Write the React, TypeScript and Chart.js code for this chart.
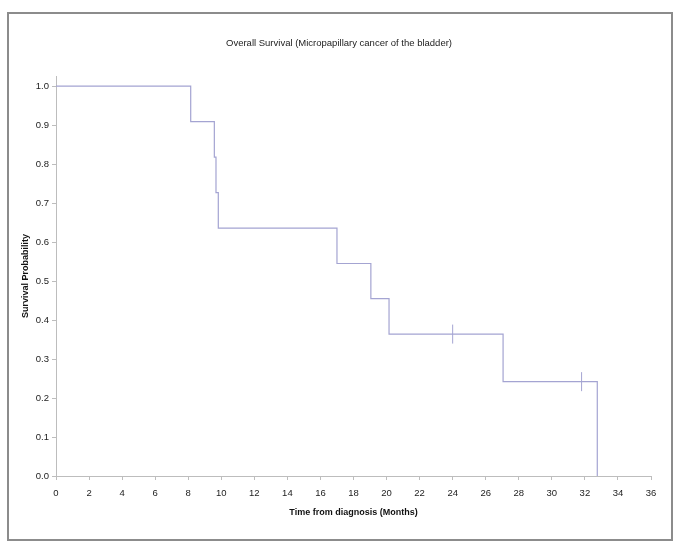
import React, { useEffect, useRef } from "react";
import { Chart, registerables } from "chart.js";

Chart.register(...registerables);

const chartTitle = "Overall Survival (Micropapillary cancer of the bladder)";
const xAxisTitle = "Time from diagnosis (Months)";
const yAxisTitle = "Survival Probability";

// Kaplan-Meier steps: time of each event and survival after it
const eventTimes = [0, 8.15, 9.58, 9.68, 9.82, 17.0, 19.05, 20.15, 27.05, 32.75];
const survival = [1.0, 0.909, 0.818, 0.727, 0.636, 0.545, 0.455, 0.364, 0.242, 0.0];

// Censored observations
const censorTimes = [24.0, 31.8];
const censorSurvival = [0.364, 0.242];

const xTicks = [0, 2, 4, 6, 8, 10, 12, 14, 16, 18, 20, 22, 24, 26, 28, 30, 32, 34, 36];
const yTicks = [0.0, 0.1, 0.2, 0.3, 0.4, 0.5, 0.6, 0.7, 0.8, 0.9, 1.0];

const FONT = "'Liberation Sans Narrow', 'Arial Narrow', 'Liberation Sans', Arial, sans-serif";
const LINE_COLOR = "#a4a4d2";
const AXIS_COLOR = "#bdbdbd";

const framePlugin = {
  id: "frame",
  beforeDraw(chart: any) {
    const { ctx, width, height } = chart;
    ctx.save();
    ctx.fillStyle = "#ffffff";
    ctx.fillRect(0, 0, width, height);
    ctx.strokeStyle = "#8c8c8c";
    ctx.lineWidth = 2;
    ctx.strokeRect(8, 13, 664, 527);
    ctx.restore();
  },
};

export default function App() {
  const canvasRef = useRef<HTMLCanvasElement | null>(null);

  useEffect(() => {
    if (!canvasRef.current) return;
    const chart = new Chart(canvasRef.current, {
      type: "line",
      data: {
        datasets: [
          {
            type: "line",
            label: "Overall survival",
            data: eventTimes.map((t, i) => ({ x: t, y: survival[i] })),
            stepped: "before",
            borderColor: LINE_COLOR,
            borderWidth: 1.2,
            pointRadius: 0,
            fill: false,
            xAxisID: "x",
            yAxisID: "y",
          },
          {
            type: "scatter",
            label: "Censored",
            data: censorTimes.map((t, i) => ({ x: t, y: censorSurvival[i] })),
            pointStyle: "line",
            rotation: 90,
            pointRadius: 9.5,
            borderColor: LINE_COLOR,
            backgroundColor: LINE_COLOR,
            borderWidth: 1,
            showLine: false,
            xAxisID: "x",
            yAxisID: "y",
          } as any,
        ],
      },
      options: {
        responsive: false,
        animation: false,
        devicePixelRatio: 1,
        layout: { padding: { left: 0, right: 7, top: 0, bottom: 0 } },
        plugins: {
          legend: { display: false },
          tooltip: { enabled: false },
          title: {
            display: true,
            text: chartTitle,
            color: "#222222",
            font: { family: FONT, size: 9.5, weight: "normal" },
            padding: { top: 37.3, bottom: 27.3 },
          },
        },
        scales: {
          x: {
            type: "linear",
            position: "bottom",
            min: 0,
            max: 36,
            afterFit: (s: any) => {
              s.height = 75;
            },
            afterBuildTicks: (s: any) => {
              s.ticks = xTicks.map((v) => ({ value: v }));
            },
            grid: {
              drawOnChartArea: false,
              drawTicks: true,
              tickLength: 4,
              color: AXIS_COLOR,
            },
            border: { display: true, color: AXIS_COLOR, width: 1 },
            ticks: {
              padding: 7.3,
              color: "#222222",
              font: { family: FONT, size: 9.5 },
              maxRotation: 0,
              autoSkip: false,
              callback: (v: any) => String(v),
            },
            title: {
              display: true,
              text: xAxisTitle,
              color: "#111111",
              font: { family: FONT, size: 9, weight: "bold" },
              padding: { top: 0, bottom: 32.6 },
            },
          },
          y: {
            type: "linear",
            position: "left",
            min: 0,
            max: 1.026,
            afterFit: (s: any) => {
              s.width = 56;
            },
            afterBuildTicks: (s: any) => {
              s.ticks = yTicks.map((v) => ({ value: v }));
            },
            grid: {
              drawOnChartArea: false,
              drawTicks: true,
              tickLength: 4,
              color: AXIS_COLOR,
            },
            border: { display: true, color: AXIS_COLOR, width: 1 },
            ticks: {
              padding: 3,
              color: "#222222",
              font: { family: FONT, size: 9.5 },
              autoSkip: false,
              callback: (v: any) => Number(v).toFixed(1),
            },
            title: {
              display: true,
              text: yAxisTitle,
              color: "#111111",
              font: { family: FONT, size: 9, weight: "bold" },
              padding: { top: 20.3, bottom: 0 },
            },
          },
          yRight: {
            type: "linear",
            position: "right",
            display: true,
            afterFit: (s: any) => {
              s.width = 27;
            },
            grid: { display: false },
            border: { display: false },
            ticks: { display: false },
          },
        },
      } as any,
      plugins: [framePlugin],
    });
    return () => chart.destroy();
  }, []);

  return (
    <div style={{ position: "absolute", left: 0, top: 0, width: 685, height: 551 }}>
      <canvas ref={canvasRef} width={685} height={551} style={{ display: "block" }} />
    </div>
  );
}
